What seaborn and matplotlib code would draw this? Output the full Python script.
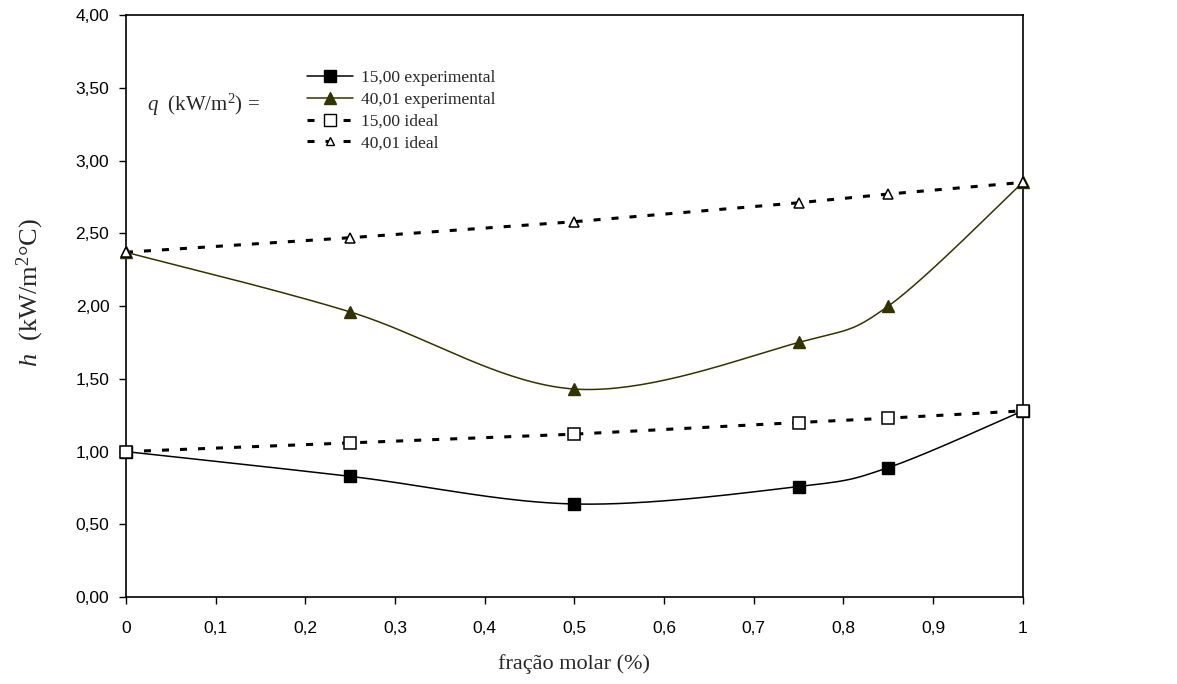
import numpy as np
import pandas as pd
import matplotlib
matplotlib.use("Agg")
import matplotlib.pyplot as plt
import seaborn as sns
from matplotlib.lines import Line2D
from matplotlib.ticker import FuncFormatter

fracao = [0.0, 0.25, 0.5, 0.75, 0.85, 1.0]
h_15_exp = [1.00, 0.83, 0.64, 0.76, 0.89, 1.28]
h_40_exp = [2.37, 1.96, 1.43, 1.75, 2.00, 2.85]
h_15_ideal = [1.00, 1.06, 1.12, 1.20, 1.23, 1.28]
h_40_ideal = [2.37, 2.47, 2.58, 2.71, 2.77, 2.85]

x_ticks = [0, 0.1, 0.2, 0.3, 0.4, 0.5, 0.6, 0.7, 0.8, 0.9, 1]
y_ticks = [0, 0.5, 1.0, 1.5, 2.0, 2.5, 3.0, 3.5, 4.0]


def smooth(xs, ys, n=40):
    # Excel-style smoothed line (Catmull-Rom through the points)
    p = np.column_stack([xs, ys]).astype(float)
    p = np.vstack([p[0], p, p[-1]])
    out = []
    for i in range(1, len(p) - 2):
        p0, p1, p2, p3 = p[i - 1], p[i], p[i + 1], p[i + 2]
        t = np.linspace(0, 1, n)[:, None]
        seg = 0.5 * ((2 * p1) + (-p0 + p2) * t
                     + (2 * p0 - 5 * p1 + 4 * p2 - p3) * t ** 2
                     + (-p0 + 3 * p1 - 3 * p2 + p3) * t ** 3)
        out.append(seg)
    s = np.vstack(out)
    return pd.DataFrame({"x": s[:, 0], "y": s[:, 1]})


sns.set_style("ticks")
plt.rcParams["font.family"] = ["Liberation Sans", "DejaVu Sans"]
plt.rcParams["mathtext.fontset"] = "custom"
plt.rcParams["mathtext.it"] = "Liberation Serif:italic"
plt.rcParams["mathtext.rm"] = "Liberation Serif"

fig, ax = plt.subplots(figsize=(11.77, 6.84), dpi=100)
fig.subplots_adjust(left=0.107, right=0.869, top=0.978, bottom=0.127)

olive = "#333300"
dot = (0, (2.3, 3.6))

# ideal series (dotted)
sns.lineplot(x=fracao, y=h_15_ideal, ax=ax, color="black", lw=2.2,
             linestyle=dot, zorder=2)
sns.lineplot(x=fracao, y=h_40_ideal, ax=ax, color="black", lw=2.2,
             linestyle=dot, zorder=2)
ax.plot(fracao, h_15_ideal, ls="none", marker="s", ms=8.5, mfc="white",
        mec="black", mew=1.1, zorder=4, clip_on=False)
ax.plot(fracao, h_40_ideal, ls="none", marker="^", ms=7, mfc="white",
        mec="black", mew=1.1, zorder=4, clip_on=False)

# experimental series (smoothed)
s15 = smooth(fracao, h_15_exp)
s40 = smooth(fracao, h_40_exp)
sns.lineplot(data=s15, x="x", y="y", ax=ax, color="black", lw=1.1,
             sort=False, zorder=3)
sns.lineplot(data=s40, x="x", y="y", ax=ax, color=olive, lw=1.1,
             sort=False, zorder=3)
ax.plot(fracao, h_15_exp, ls="none", marker="s", ms=8.5, color="black",
        zorder=3.5, clip_on=False)
ax.plot(fracao, h_40_exp, ls="none", marker="^", ms=9, color=olive,
        zorder=3.5, clip_on=False)

ax.set_xlim(0, 1)
ax.set_ylim(0, 4)
ax.set_xticks(x_ticks)
ax.set_yticks(y_ticks)
ax.xaxis.set_major_formatter(FuncFormatter(lambda v, p: f"{v:g}".replace(".", ",")))
ax.yaxis.set_major_formatter(FuncFormatter(lambda v, p: f"{v:.2f}".replace(".", ",")))
ax.tick_params(labelsize=12.5, length=5, width=1, colors="black")
ax.tick_params(axis="x", pad=12)
ax.tick_params(axis="y", pad=7)
for sp in ax.spines.values():
    sp.set_visible(True)
    sp.set_linewidth(1.2)
    sp.set_color("black")

serif = ["Liberation Serif", "DejaVu Serif"]
ax.set_xlabel("fração molar (%)", fontsize=16, family=serif)
ax.xaxis.set_label_coords(0.5, -0.097)
ax.set_ylabel(r"$\it{h}$  (kW/m$^2$°C)", fontsize=19, family=serif)
ax.yaxis.set_label_coords(-0.0895, 0.524)

handles = [
    Line2D([], [], color="black", lw=1.1, marker="s", ms=8.5),
    Line2D([], [], color=olive, lw=1.1, marker="^", ms=9),
    Line2D([], [], color="black", lw=2.2, ls=dot, marker="s", ms=8.5,
           mfc="white", mec="black"),
    Line2D([], [], color="black", lw=2.2, ls=dot, marker="^", ms=6,
           mfc="white", mec="black"),
]
labels = ["15,00 experimental", "40,01 experimental", "15,00 ideal", "40,01 ideal"]
ax.legend(handles, labels, loc="upper left", bbox_to_anchor=(0.185, 0.933),
          frameon=False, prop={"family": serif, "size": 12.5},
          handlelength=2.6, labelspacing=0.33, handletextpad=0.5)
ax.text(0.023, 0.845, r"$\it{q}$  (kW/m$^2$) =", transform=ax.transAxes,
        fontsize=15, family=serif, va="center")

fig.savefig("out.png", dpi=100)
